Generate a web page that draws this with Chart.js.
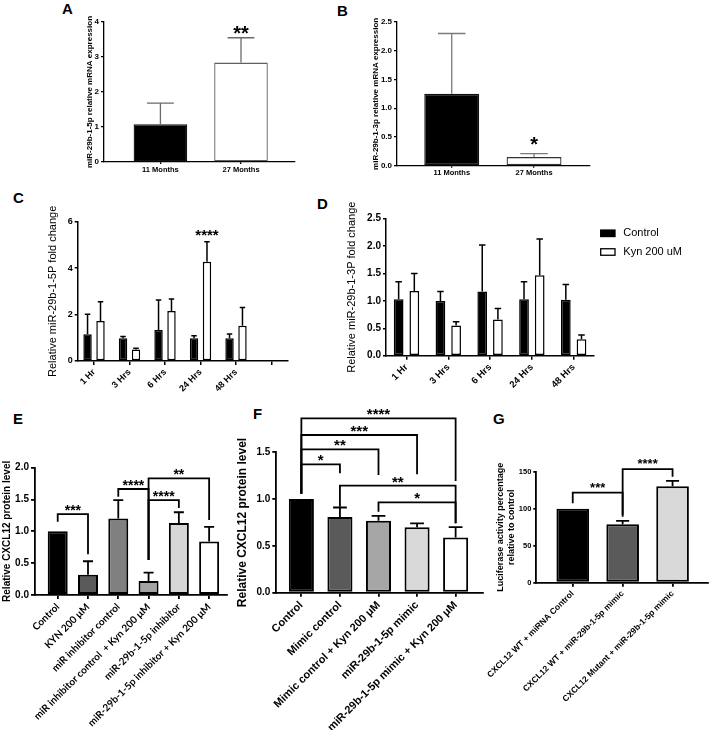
<!DOCTYPE html>
<html>
<head>
<meta charset="utf-8">
<script src="https://cdn.jsdelivr.net/npm/chart.js@4.4.1/dist/chart.umd.min.js"></script>
<style>
  body { margin: 0; background: #fff; }
  #fig { position: relative; width: 710px; height: 730px; overflow: hidden; font-family: 'Liberation Sans', Arial, sans-serif; }
  canvas { position: absolute; }
  .tag { position: absolute; font-weight: bold; font-size: 15px; line-height: 15px; color: #000; }
</style>
</head>
<body>
<div id="fig">
  <div class="tag" style="left:62px;top:1px">A</div>
  <div class="tag" style="left:337px;top:3px">B</div>
  <div class="tag" style="left:13px;top:190px">C</div>
  <div class="tag" style="left:317px;top:196px">D</div>
  <div class="tag" style="left:13px;top:411px">E</div>
  <div class="tag" style="left:253px;top:406px">F</div>
  <div class="tag" style="left:493px;top:411px">G</div>
  <canvas id="chartA"></canvas>
  <canvas id="chartB"></canvas>
  <canvas id="chartC"></canvas>
  <canvas id="chartD"></canvas>
  <canvas id="chartE"></canvas>
  <canvas id="chartF"></canvas>
  <canvas id="chartG"></canvas>
</div>
<script>
// ---- data ----
const ageLabels = ['11 Months', '27 Months'];
const mir5pByAge = [1.08, 2.84];
const mir5pByAgeErr = [0.60, 0.71];
const mir3pByAge = [1.25, 0.15];
const mir3pByAgeErr = [1.05, 0.06];

const timeLabels = ['1 Hr', '3 Hrs', '6 Hrs', '24 Hrs', '48 Hrs'];
const mir5pControl = [1.15, 0.98, 1.33, 0.98, 0.98];
const mir5pControlErr = [0.86, 0.07, 1.30, 0.11, 0.18];
const mir5pKyn = [1.72, 0.49, 2.15, 4.28, 1.52];
const mir5pKynErr = [0.83, 0.06, 0.52, 0.86, 0.78];
const mir3pControl = [1.03, 1.00, 1.17, 1.03, 1.02];
const mir3pControlErr = [0.32, 0.17, 0.85, 0.32, 0.28];
const mir3pKyn = [1.18, 0.55, 0.66, 1.47, 0.30];
const mir3pKynErr = [0.32, 0.07, 0.20, 0.66, 0.08];

const inhibitorLabels = ['Control', 'KYN 200 μM', 'miR inhibitor control', 'miR inhibitor control  + Kyn 200 μM',
  'miR-29b-1-5p inhibitor', 'miR-29b-1-5p inhibitor + Kyn 200 μM'];
const inhibitorCxcl12 = [1.00, 0.32, 1.20, 0.22, 1.13, 0.84];
const inhibitorCxcl12Err = [0, 0.21, 0.29, 0.13, 0.17, 0.23];

const mimicLabels = ['Control', 'Mimic control', 'Mimic control + Kyn 200 μM', 'miR-29b-1-5p mimic', 'miR-29b-1-5p mimic + Kyn 200 μM'];
const mimicCxcl12 = [1.00, 0.81, 0.77, 0.70, 0.59];
const mimicCxcl12Err = [0, 0.10, 0.05, 0.04, 0.11];

const luciferaseLabels = ['CXCL12 WT + miRNA Control', 'CXCL12 WT + miR-29b-1-5p mimic', 'CXCL12 Mutant + miR-29b-1-5p mimic'];
const luciferase = [100, 79, 130.5];
const luciferaseErr = [0, 4.5, 7];

// significance annotations (bar index pairs, data units)
const inhibitorSig = [
  { from: 0, to: 1, level: 1.27, left: 1.15, right: 0.64, text: '***' },
  { from: 2, to: 3, level: 1.665, left: 1.545, right: 0.55, text: '****' },
  { from: 3, to: 4, level: 1.49, left: 0.55, right: 1.367, text: '****' },
  { from: 3, to: 5, level: 1.833, left: 0.55, right: 1.18, text: '**' },
];
const mimicSig = [
  { from: 0, to: 4, level: 1.863, left: 1.056, right: 1.193, text: '****' },
  { from: 0, to: 3, level: 1.685, left: 1.056, right: 1.265, text: '***' },
  { from: 0, to: 2, level: 1.532, left: 1.056, right: 1.257, text: '**' },
  { from: 0, to: 1, level: 1.372, left: 1.056, right: 1.276, text: '*' },
  { from: 1, to: 4, level: 1.143, left: 0.919, right: 0.741, text: '**' },
  { from: 2, to: 4, level: 0.966, left: 0.865, right: 0.741, text: '*' },
];
const luciferaseSig = [
  { from: 0, to: 1, level: 121.6, left: 107.3, right: 89.2, text: '***' },
  { from: 1, to: 2, level: 153.6, left: 91.5, right: 143.2, text: '****' },
];

Chart.defaults.font.family = "'Liberation Sans', Arial, sans-serif";
Chart.defaults.color = '#000';

const FAM = "'Liberation Sans', Arial, sans-serif";

function errorBarsPlugin(s) {
  return {
    id: 'errorBars',
    afterDatasetsDraw(chart) {
      const ctx = chart.ctx, y = chart.scales.y;
      chart.data.datasets.forEach((ds, di) => {
        chart.getDatasetMeta(di).data.forEach((bar, i) => {
          const err = ds.errors[i];
          if (!err) return;
          const top = y.getPixelForValue(ds.data[i].y + err);
          const half = bar.width * s.cap / 2;
          ctx.save();
          ctx.strokeStyle = s.errColor;
          ctx.lineWidth = s.errWidth;
          ctx.beginPath();
          ctx.moveTo(bar.x, bar.y);
          ctx.lineTo(bar.x, top);
          ctx.moveTo(bar.x - half, top);
          ctx.lineTo(bar.x + half, top);
          ctx.stroke();
          ctx.restore();
        });
      });
    }
  };
}

function sigPlugin(s) {
  return {
    id: 'sigMarks',
    afterDatasetsDraw(chart) {
      const { ctx } = chart, x = chart.scales.x, y = chart.scales.y;
      const lift = s.starSize * 0.57;
      ctx.save();
      ctx.strokeStyle = '#000';
      ctx.fillStyle = '#000';
      ctx.lineWidth = s.bracketW;
      ctx.font = 'bold ' + s.starSize + 'px ' + FAM;
      ctx.textAlign = 'center';
      ctx.textBaseline = 'alphabetic';
      (s.brackets || []).forEach(b => {
        const x1 = x.getPixelForValue(b.from), x2 = x.getPixelForValue(b.to);
        const yl = y.getPixelForValue(b.level);
        ctx.beginPath();
        ctx.moveTo(x1, y.getPixelForValue(b.left));
        ctx.lineTo(x1, yl);
        ctx.lineTo(x2, yl);
        ctx.lineTo(x2, y.getPixelForValue(b.right));
        ctx.stroke();
        ctx.fillText(b.text, (x1 + x2) / 2, yl - s.starGap + lift);
      });
      (s.marks || []).forEach(m => {
        const bar = chart.getDatasetMeta(m.dataset).data[m.index];
        ctx.fillText(m.text, bar.x, y.getPixelForValue(m.level) + lift);
      });
      ctx.restore();
    }
  };
}

function sideLegendPlugin(s) {
  return {
    id: 'sideLegend',
    afterDraw(chart) {
      const o = s.legend;
      if (!o) return;
      const { ctx, chartArea } = chart;
      ctx.save();
      ctx.font = o.font;
      ctx.textBaseline = 'middle';
      chart.data.datasets.forEach((ds, i) => {
        const cy = chartArea.top + o.dy + i * o.row;
        const bx = chartArea.right + o.dx;
        ctx.fillStyle = ds.backgroundColor;
        ctx.fillRect(bx, cy - o.h / 2, o.w, o.h);
        ctx.strokeStyle = '#000';
        ctx.lineWidth = 1.3;
        ctx.strokeRect(bx, cy - o.h / 2, o.w, o.h);
        ctx.fillStyle = '#000';
        ctx.fillText(ds.label, bx + o.w + o.gap, cy);
      });
      ctx.restore();
    }
  };
}

const base = {
  catPct: 1, barPct: 0.66, borderWidth: 1.5, axisW: 1.5, xTickLen: 3, yTickLen: 3, xPad: 2, yPad: 2,
  rot: 45, cap: 0.5, errColor: '#000', errWidth: 1.5, starSize: 14, starGap: 7, bracketW: 1.8
};

function barPanel(id, g, spec) {
  const s = Object.assign({}, base, spec);
  const canvas = document.getElementById(id);
  canvas.width = g.cr - g.cl;
  canvas.height = g.cb - g.ct;
  canvas.style.left = g.cl + 'px';
  canvas.style.top = g.ct + 'px';
  const tickLabels = s.tickLabels || s.labels;
  return new Chart(canvas, {
    type: 'bar',
    data: {
      datasets: s.series.map(d => ({
        label: d.label,
        data: d.values.map((v, i) => ({ x: i, y: v })),
        errors: d.errors,
        backgroundColor: d.fill,
        borderColor: d.stroke || '#000',
        borderWidth: s.borderWidth,
        borderSkipped: false,
        categoryPercentage: s.catPct,
        barPercentage: s.barPct,
      }))
    },
    options: {
      responsive: false,
      animation: false,
      events: [],
      layout: { padding: { top: g.top - g.ct, right: g.cr - g.right, left: 0, bottom: 0 } },
      plugins: { legend: { display: false }, tooltip: { enabled: false } },
      scales: {
        x: {
          type: 'linear', min: s.xMin, max: s.xMax, offset: false, bounds: 'data',
          grid: { display: true, offset: false, drawOnChartArea: false, drawTicks: true, tickLength: s.xTickLen, color: '#000', lineWidth: s.axisW },
          border: { display: true, color: '#000', width: s.axisW },
          ticks: { autoSkip: false, maxRotation: s.rot, minRotation: s.rot, padding: s.xPad, color: '#000', font: s.xFont,
            callback: v => tickLabels[v] },
          afterBuildTicks: sc => { sc.ticks = tickLabels.map((t, i) => ({ value: i })); },
          afterFit: sc => { sc.height = g.cb - g.bottom; sc.paddingLeft = 0; sc.paddingRight = 0; }
        },
        y: {
          min: 0, max: s.yMax, bounds: 'data',
          grid: { display: true, drawOnChartArea: false, drawTicks: true, tickLength: s.yTickLen, color: '#000', lineWidth: s.axisW },
          border: { display: true, color: '#000', width: s.axisW },
          ticks: { stepSize: s.yStep, padding: s.yPad, color: '#000', font: s.yFont, callback: v => s.fmt(v) },
          title: { display: true, text: s.title, color: '#000', font: s.titleFont, padding: { top: s.titlePad, bottom: 0 } },
          afterFit: sc => { sc.width = g.left - g.cl; sc.paddingTop = 0; sc.paddingBottom = 0; }
        }
      }
    },
    plugins: [errorBarsPlugin(s), sigPlugin(s), sideLegendPlugin(s)]
  });
}

const int = v => String(v);
const one = v => v.toFixed(1);
const bold = (size, family) => ({ family: family || FAM, size: size, weight: 'bold' });

// A
barPanel('chartA', { cl: 55, ct: 10, cr: 300, cb: 182, left: 104, top: 22, right: 295, bottom: 162 }, {
  labels: ageLabels, xMin: -0.70, xMax: 1.67, yMax: 4, yStep: 1, fmt: int, rot: 0,
  barPct: 0.665,
  series: [{ values: mir5pByAge, errors: mir5pByAgeErr, fill: ['#000', '#fff'], stroke: ['#111', '#5f5f5f'] }],
  xFont: bold(7.5), yFont: bold(8), xTickLen: 2, xPad: 1, axisW: 1.3, borderWidth: 1.3,
  title: 'miR-29b-1-5p relative mRNA expression', titleFont: bold(8), titlePad: 29.9,
  errColor: '#6b6b6b', errWidth: 1.3, cap: 0.5,
  marks: [{ dataset: 0, index: 1, level: 3.8, text: '**' }], starSize: 20
});

// B
barPanel('chartB', { cl: 350, ct: 10, cr: 600, cb: 185, left: 397, top: 22, right: 590, bottom: 165.7 }, {
  labels: ageLabels, xMin: -0.665, xMax: 1.68, yMax: 2.5, yStep: 0.5, fmt: one, rot: 0,
  barPct: 0.667,
  series: [{ values: mir3pByAge, errors: mir3pByAgeErr, fill: ['#000', '#fff'], stroke: ['#111', '#333'] }],
  xFont: bold(7.5), yFont: bold(8), xTickLen: 2, xPad: 1, axisW: 1.3, borderWidth: 1.3,
  title: 'miR-29b-1-3p relative mRNA expression', titleFont: bold(8), titlePad: 21.2,
  errColor: '#7a7a7a', errWidth: 1.3, cap: 0.5,
  marks: [{ dataset: 0, index: 1, level: 0.45, text: '*' }], starSize: 20
});

// C
barPanel('chartC', { cl: 20, ct: 200, cr: 300, cb: 400, left: 77.7, top: 221.7, right: 288, bottom: 361 }, {
  labels: timeLabels, tickLabels: timeLabels.concat(['']), xMin: -0.46, xMax: 5.465,
  yMax: 6, yStep: 2, fmt: int, catPct: 0.73, barPct: 0.65,
  series: [
    { label: 'Control', values: mir5pControl, errors: mir5pControlErr, fill: '#000' },
    { label: 'Kyn 200 uM', values: mir5pKyn, errors: mir5pKynErr, fill: '#fff' }
  ],
  xFont: bold(9), yFont: bold(9), xTickLen: 4,
  title: 'Relative miR-29b-1-5P fold change', titleFont: { family: FAM, size: 11 }, titlePad: 25.9,
  cap: 0.65, marks: [{ dataset: 1, index: 3, level: 5.57, text: '****' }], starSize: 15
});

// D
barPanel('chartD', { cl: 320, ct: 200, cr: 710, cb: 400, left: 386, top: 218.7, right: 593.3, bottom: 355.7 }, {
  labels: timeLabels, xMin: -0.49, xMax: 4.47,
  yMax: 2.5, yStep: 0.5, fmt: one, catPct: 0.75, barPct: 0.62,
  series: [
    { label: 'Control', values: mir3pControl, errors: mir3pControlErr, fill: '#000' },
    { label: 'Kyn 200 uM', values: mir3pKyn, errors: mir3pKynErr, fill: '#fff' }
  ],
  xFont: bold(9.5), yFont: bold(10), xTickLen: 4,
  title: 'Relative miR-29b-1-3P fold change', titleFont: { family: FAM, size: 11 }, titlePad: 25.4,
  cap: 0.67,
  legend: { dx: 7.4, dy: 14.6, row: 18.7, w: 14.3, h: 6.5, gap: 8.3, font: '11px ' + FAM }
});

// E
barPanel('chartE', { cl: 0, ct: 440, cr: 230, cb: 730, left: 35, top: 467.7, right: 227, bottom: 595 }, {
  labels: inhibitorLabels, xMin: -0.75, xMax: 5.59, yMax: 2, yStep: 0.5, fmt: one,
  series: [{ values: inhibitorCxcl12, errors: inhibitorCxcl12Err,
    fill: ['#000', '#5a5a5a', '#808080', '#a3a3a3', '#d6d6d6', '#fff'] }],
  borderWidth: 2, axisW: 1.8, xTickLen: 4, yTickLen: 4, errWidth: 1.8,
  xFont: bold(10, 'Lato'), yFont: bold(10),
  title: 'Relative CXCL12 protein level', titleFont: bold(10), titlePad: 1.5,
  brackets: inhibitorSig, starSize: 14, starGap: 7
});

// F
barPanel('chartF', { cl: 228, ct: 398, cr: 490, cb: 730, left: 276.3, top: 452.3, right: 483, bottom: 592.7 }, {
  labels: mimicLabels, xMin: -0.65, xMax: 4.71, yMax: 1.5, yStep: 0.5, fmt: one,
  barPct: 0.65,
  series: [{ values: mimicCxcl12, errors: mimicCxcl12Err,
    fill: ['#000', '#5a5a5a', '#a6a6a6', '#d9d9d9', '#fff'] }],
  borderWidth: 2, axisW: 1.8, xTickLen: 4, yTickLen: 4, errWidth: 1.8, cap: 0.55,
  xFont: bold(11), yFont: bold(10),
  title: 'Relative CXCL12 protein level', titleFont: bold(12), titlePad: 7.8,
  brackets: mimicSig, starSize: 15, starGap: 7.5
});

// G
barPanel('chartG', { cl: 470, ct: 440, cr: 710, cb: 730, left: 536.3, top: 471.7, right: 708, bottom: 582.7 }, {
  labels: luciferaseLabels, xMin: -0.73, xMax: 2.71, yMax: 150, yStep: 50, fmt: int,
  barPct: 0.654,
  series: [{ values: luciferase, errors: luciferaseErr, fill: ['#000', '#5a5a5a', '#d9d9d9'] }],
  borderWidth: 2, axisW: 1.8, xTickLen: 4, yTickLen: 3, errWidth: 1.8, cap: 0.4,
  xFont: bold(8.5), yFont: bold(7.5),
  title: ['Luciferase activity percentage', 'relative to control'],
  titleFont: { family: FAM, size: 9, weight: 'bold', lineHeight: 1.15 }, titlePad: 25.8,
  brackets: luciferaseSig, starSize: 13, starGap: 8
});
</script>
</body>
</html>
